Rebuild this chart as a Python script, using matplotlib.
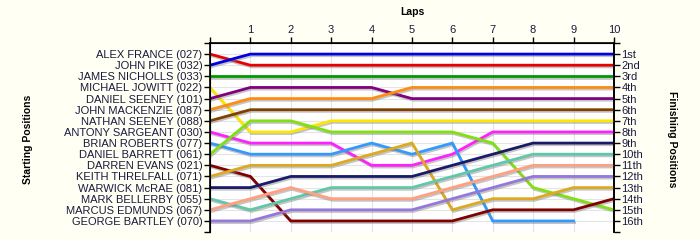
import matplotlib
matplotlib.use("Agg")
import matplotlib.pyplot as plt
import matplotlib.patheffects as pe
import numpy as np

plt.rcParams["font.family"] = ["Liberation Sans", "DejaVu Sans"]

laps = list(range(0, 11))

drivers = [
    "ALEX FRANCE (027)", "JOHN PIKE (032)", "JAMES NICHOLLS (033)",
    "MICHAEL JOWITT (022)", "DANIEL SEENEY (101)", "JOHN MACKENZIE (087)",
    "NATHAN SEENEY (088)", "ANTONY SARGEANT (030)", "BRIAN ROBERTS (077)",
    "DANIEL BARRETT (061)", "DARREN EVANS (021)", "KEITH THRELFALL (071)",
    "WARWICK McRAE (081)", "MARK BELLERBY (055)", "MARCUS EDMUNDS (067)",
    "GEORGE BARTLEY (070)",
]

# position of each driver after each lap (lap 0 = grid)
alex_france = [1, 2, 2, 2, 2, 2, 2, 2, 2, 2, 2]
john_pike = [2, 1, 1, 1, 1, 1, 1, 1, 1, 1, 1]
james_nicholls = [3, 3, 3, 3, 3, 3, 3, 3, 3, 3, 3]
michael_jowitt = [4, 8, 8, 7, 7, 7, 7, 7, 7, 7, 7]
daniel_seeney = [5, 4, 4, 4, 4, 5, 5, 5, 5, 5, 5]
john_mackenzie = [6, 5, 5, 5, 5, 4, 4, 4, 4, 4, 4]
nathan_seeney = [7, 6, 6, 6, 6, 6, 6, 6, 6, 6, 6]
antony_sargeant = [8, 9, 9, 9, 11, 11, 10, 8, 8, 8, 8]
brian_roberts = [9, 10, 10, 10, 9, 10, 9, 16, 16, 16, np.nan]
daniel_barrett = [10, 7, 7, 8, 8, 8, 8, 9, 13, 14, 15]
darren_evans = [11, 12, 16, 16, 16, 16, 16, 15, 15, 15, 14]
keith_threlfall = [12, 11, 11, 11, 10, 9, 15, 14, 14, 13, 13]
warwick_mcrae = [13, 13, 12, 12, 12, 12, 11, 10, 9, 9, 9]
mark_bellerby = [14, 15, 14, 13, 13, 13, 12, 11, 10, 10, 10]
marcus_edmunds = [15, 14, 13, 14, 14, 14, 13, 12, 11, 11, 11]
george_bartley = [16, 16, 15, 15, 15, 15, 14, 13, 12, 12, 12]

positions = [
    alex_france, john_pike, james_nicholls, michael_jowitt, daniel_seeney,
    john_mackenzie, nathan_seeney, antony_sargeant, brian_roberts,
    daniel_barrett, darren_evans, keith_threlfall, warwick_mcrae,
    mark_bellerby, marcus_edmunds, george_bartley,
]

colors = [
    "#e80000", "#0000e0", "#009a00", "#ffe600", "#800080", "#ff8c10",
    "#804000", "#ff20ff", "#3399ff", "#80e010", "#800000", "#dcaa20",
    "#1a1a6a", "#60c8a8", "#ffa080", "#9478dc",
]

finish_labels = ["1st", "2nd", "3rd"] + ["%dth" % i for i in range(4, 17)]

fig = plt.figure(figsize=(7, 2.4), dpi=100)
fig.patch.set_facecolor("#fffff4")
ax = fig.add_axes([0.3, 0.033, 0.577, 0.788])
ax.set_facecolor("white")

shadow = [pe.SimpleLineShadow(offset=(0.8, -1.2), shadow_color="#808080", alpha=0.45),
          pe.Normal()]

for pos, col in zip(positions, colors):
    ax.plot(laps, pos, color=col, lw=2.0, solid_joinstyle="miter",
            path_effects=shadow, zorder=3)

ax.set_xlim(0, 10)
ax.set_ylim(17, 0)

ax.set_xticks(laps)
ax.set_xticklabels([""] + [str(i) for i in laps[1:]])
ax.xaxis.tick_top()
ax.set_yticks(range(0, 18))
ax.set_yticklabels([""] + drivers + [""])

ax.grid(True, color="#e4e4e4", lw=0.8, zorder=0)
ax.spines["bottom"].set_visible(False)
for s in ["left", "top", "right"]:
    ax.spines[s].set_linewidth(1.2)

ax.tick_params(axis="both", direction="out", length=4, width=1.0,
               labelsize=8, labelcolor="#1a1a40", pad=1.5)

ax2 = ax.twinx()
ax2.set_ylim(17, 0)
ax2.set_yticks(range(0, 18))
ax2.set_yticklabels([""] + finish_labels + [""])
ax2.spines["bottom"].set_visible(False)
ax2.spines["right"].set_linewidth(1.2)
ax2.tick_params(axis="y", direction="out", length=4, width=1.0,
                labelsize=8, labelcolor="#1a1a40", pad=1.5)

fig.text(0.589, 0.95, "Laps", ha="center", va="center",
         fontsize=7.5, fontweight="bold")
fig.text(0.04, 0.42, "Starting Positions", ha="center", va="center",
         rotation=90, fontsize=7.5, fontweight="bold")
fig.text(0.96, 0.42, "Finishing Positions", ha="center", va="center",
         rotation=270, fontsize=7.5, fontweight="bold")

fig.savefig("out.png", dpi=100, facecolor=fig.get_facecolor())
